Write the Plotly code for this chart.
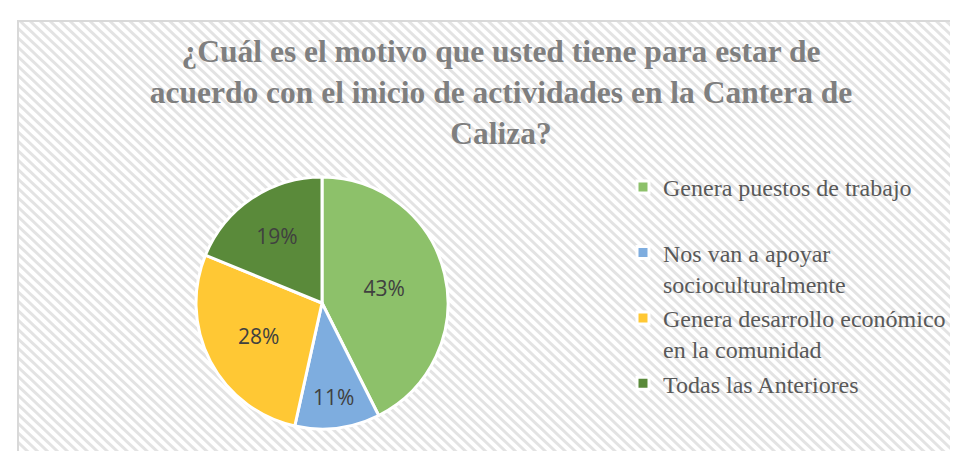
import base64
import plotly.graph_objects as go

categories = [
    "Genera puestos de trabajo<br> ",
    "Nos van a apoyar<br>socioculturalmente",
    "Genera desarrollo económico<br>en la comunidad",
    "Todas las Anteriores",
]
values = [43, 11, 28, 19]
colors = ["#8dc16a", "#7eaddf", "#ffc834", "#5a8a3a"]

W, H = 958, 451
SERIF = "Liberation Serif, Times New Roman, serif"

svg = (
    '<svg xmlns="http://www.w3.org/2000/svg" width="1000" height="460">'
    '<defs><pattern id="p" width="7" height="7" patternUnits="userSpaceOnUse" '
    'patternTransform="rotate(-45)">'
    '<rect width="7" height="7" fill="#ffffff"/>'
    '<rect width="3" height="7" fill="#e3e3e3"/></pattern></defs>'
    '<rect width="1000" height="460" fill="url(#p)"/></svg>'
)
src = "data:image/svg+xml;base64," + base64.b64encode(svg.encode()).decode()

cx, cy, r = 314, 156, 126

fig = go.Figure()
fig.add_trace(go.Pie(
    labels=categories,
    values=values,
    sort=False,
    direction="clockwise",
    rotation=0,
    marker=dict(colors=colors, line=dict(color="white", width=3)),
    textinfo="percent",
    texttemplate="%{percent:.0%}",
    textposition="inside",
    insidetextorientation="horizontal",
    textfont=dict(family="Open Sans", size=21, color="#404040"),
    domain=dict(x=[(cx - r) / W, (cx + r) / W], y=[(cy - r) / H, (cy + r) / H]),
    hoverinfo="label+percent",
))

fig.update_layout(
    width=W, height=H,
    margin=dict(l=0, r=0, t=0, b=0),
    paper_bgcolor="white",
    plot_bgcolor="rgba(0,0,0,0)",
    title=dict(
        text="<b>¿Cuál es el motivo que usted tiene para estar de<br>acuerdo con el inicio de actividades en la Cantera de<br>Caliza?</b>",
        font=dict(family=SERIF, size=31.5, color="#7f7f7f"),
        x=493 / W, xanchor="center", xref="paper",
        y=1 - 54 / H, yanchor="top", yref="container",
    ),
    legend=dict(
        x=615 / W, xanchor="left",
        y=1 - 157 / H, yanchor="top",
        valign="top",
        font=dict(family=SERIF, size=24, color="#595959"),
        bgcolor="rgba(0,0,0,0)",
        itemclick=False, itemdoubleclick=False,
    ),
    images=[dict(
        source=src, xref="paper", yref="paper",
        x=11 / W, y=1 - 14 / H, sizex=1.05, sizey=(H - 14) / H,
        xanchor="left", yanchor="top", sizing="stretch", layer="below",
    )],
    shapes=[dict(
        type="rect", xref="paper", yref="paper",
        x0=10 / W, x1=1.05, y0=-0.01, y1=1 - 13 / H,
        line=dict(color="#d9d9d9", width=2), fillcolor="rgba(0,0,0,0)",
        layer="below",
    )],
)

fig.write_html("out.html")
